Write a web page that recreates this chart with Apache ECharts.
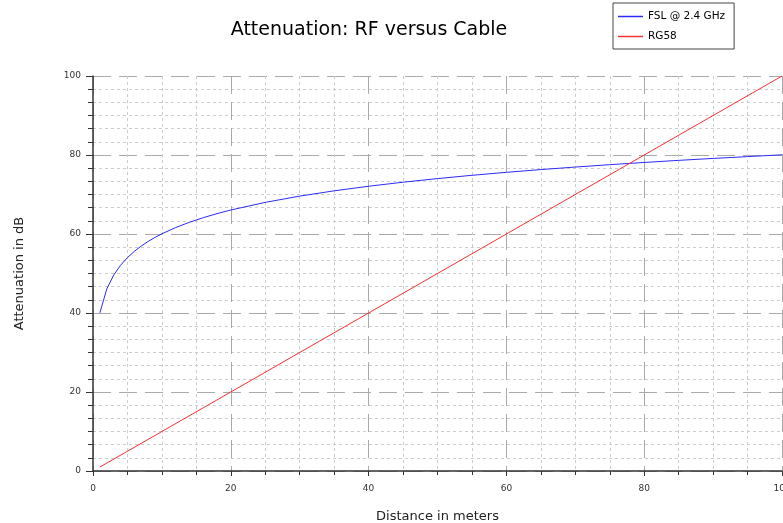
<!DOCTYPE html>
<html>
<head>
<meta charset="utf-8">
<script src="https://cdn.jsdelivr.net/npm/echarts@6/dist/echarts.min.js"></script>
<style>
  html, body { margin: 0; padding: 0; background: #fff; }
  #chart { width: 783px; height: 523px; }
</style>
</head>
<body>
<div id="chart"></div>
<script>
// distance in meters / attenuation in dB
var fslDistance = [1, 2, 3, 4, 5, 6, 7, 8, 9, 10, 12, 14, 16, 18, 20, 25, 30, 35, 40, 45, 50, 55, 60, 65, 70, 75, 80, 85, 90, 95, 100];
var fslLoss = [40.05, 46.07, 49.59, 52.09, 54.03, 55.61, 56.95, 58.11, 59.13, 60.05, 61.63, 62.97, 64.13, 65.16, 66.07, 68.01, 69.59, 70.93, 72.09, 73.11, 74.03, 74.86, 75.61, 76.31, 76.95, 77.55, 78.11, 78.64, 79.13, 79.6, 80.05];
var rg58Distance = [1, 100];
var rg58Loss = [1, 100];

function pairs(xs, ys) {
  return xs.map(function (x, i) { return [x, ys[i]]; });
}

var chart = echarts.init(document.getElementById('chart'));
var option = {
  animation: false,
  title: {
    text: 'Attenuation: RF versus Cable',
    left: 364,
    textAlign: 'center',
    top: 16,
    textStyle: { fontSize: 19, fontWeight: 'normal', color: '#000', fontFamily: 'DejaVu Sans' }
  },
  legend: {
    orient: 'vertical',
    left: 613,
    top: 3,
    width: 110,
    padding: [8, 9, 7, 5],
    itemGap: 9,
    itemWidth: 25,
    itemHeight: 1.5,
    icon: 'rect',
    borderColor: '#444',
    borderWidth: 1,
    textStyle: { fontSize: 10.5, color: '#000', fontFamily: 'DejaVu Sans' },
    data: ['FSL @ 2.4 GHz', 'RG58']
  },
  grid: { left: 93, right: 1, top: 76, bottom: 52, outerBoundsMode: 'none', containLabel: false },
  xAxis: {
    type: 'value',
    min: 0, max: 100, interval: 20,
    name: 'Distance in meters',
    nameLocation: 'middle',
    nameGap: 39,
    nameTextStyle: { fontSize: 13, color: '#222', fontFamily: 'DejaVu Sans' },
    axisLine: { lineStyle: { color: '#333', width: 1.5 } },
    axisTick: { length: 5, lineStyle: { color: '#333' } },
    minorTick: { show: true, splitNumber: 4, length: 4, lineStyle: { color: '#333' } },
    axisLabel: { fontSize: 9, color: '#333', margin: 13, fontFamily: 'DejaVu Sans' },
    splitLine: { lineStyle: { color: '#aaa', type: [18, 8] } },
    minorSplitLine: { show: true, lineStyle: { color: '#ccc', type: [3, 3] } }
  },
  yAxis: {
    type: 'value',
    min: 0, max: 100, interval: 20,
    name: 'Attenuation in dB',
    nameLocation: 'middle',
    nameGap: 67,
    nameTextStyle: { fontSize: 13, color: '#222', fontFamily: 'DejaVu Sans' },
    axisLine: { show: true, lineStyle: { color: '#333', width: 1.5 } },
    axisTick: { show: true, length: 7, lineStyle: { color: '#333' } },
    minorTick: { show: true, splitNumber: 6, length: 5, lineStyle: { color: '#333' } },
    axisLabel: { fontSize: 9, color: '#333', margin: 12, fontFamily: 'DejaVu Sans' },
    splitLine: { lineStyle: { color: '#aaa', type: [18, 8] } },
    minorSplitLine: { show: true, lineStyle: { color: '#ccc', type: [3, 3] } }
  },
  series: [
    {
      name: 'FSL @ 2.4 GHz',
      type: 'line',
      showSymbol: false,
      color: '#2b2bf5',
      lineStyle: { width: 1 },
      data: pairs(fslDistance, fslLoss)
    },
    {
      name: 'RG58',
      type: 'line',
      showSymbol: false,
      color: '#f53030',
      lineStyle: { width: 1 },
      data: pairs(rg58Distance, rg58Loss)
    }
  ]
};
chart.setOption(option);
</script>
</body>
</html>
